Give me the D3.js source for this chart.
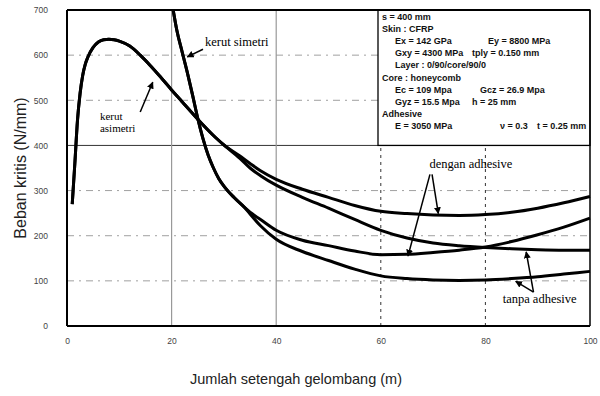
<!DOCTYPE html>
<html>
<head>
<meta charset="utf-8">
<script src="https://cdn.jsdelivr.net/npm/d3@7"></script>
<style>
  body { margin: 0; background: #fff; }
  svg { display: block; }
</style>
</head>
<body>
<div id="chart"></div>
<script>
// jumlah setengah gelombang (m) for each curve
const asymM = [1, 1.5, 2, 2.5, 3, 3.5, 4, 5, 6, 7, 8, 9, 10, 12, 14, 16, 18, 20, 22, 25, 28, 30, 33, 35, 37, 40, 45, 50, 55, 60, 65, 70, 75, 80, 85, 90, 95, 100];
const asymDengan = [270, 360, 455, 515, 555, 580, 596, 617, 629, 634, 635, 634, 631, 620, 600, 576, 550, 523, 497, 458, 422, 401, 377, 360, 344, 325, 303, 285, 267, 254, 249, 246, 245, 247, 252, 261, 273, 287];
const asymTanpa = [270, 360, 455, 515, 555, 580, 596, 617, 629, 634, 635, 634, 631, 620, 600, 576, 550, 523, 497, 458, 422, 401, 372, 350, 333, 312, 285, 261, 236, 212, 195, 184, 178, 174, 171, 169, 168, 168];

const symM = [20.3, 21, 22, 23, 24, 25, 26, 27, 28, 29, 30, 32, 34, 35, 37, 40, 45, 50, 55, 60, 65, 70, 75, 80, 85, 90, 95, 100];
const symDengan = [700, 655, 608, 562, 512, 460, 415, 378, 350, 327, 310, 284, 262, 252, 236, 212, 190, 178, 166, 158, 159, 163, 168, 175, 187, 202, 219, 239];
const symTanpa = [700, 655, 608, 562, 512, 460, 415, 378, 350, 327, 310, 284, 262, 248, 222, 192, 165, 145, 126, 111, 105, 102, 101, 102, 105, 109, 115, 121];

const xTicks = [0, 20, 40, 60, 80, 100];
const yTicks = [0, 100, 200, 300, 400, 500, 600, 700];

const infoLines = [
  [['s = 400 mm', 0]],
  [['Skin : CFRP', 0]],
  [['Ex = 142 GPa', 13], ['Ey = 8800 MPa', 106]],
  [['Gxy = 4300 MPa', 13], ['tply = 0.150 mm', 90]],
  [['Layer : 0/90/core/90/0', 13]],
  [['Core : honeycomb', 0]],
  [['Ec = 109 Mpa', 13], ['Gcz = 26.9 Mpa', 98]],
  [['Gyz = 15.5 Mpa', 13], ['h = 25 mm', 90]],
  [['Adhesive', 0]],
  [['E = 3050 MPa', 13], ['\u03bd = 0.3', 118], ['t = 0.25 mm', 155]]
];

const width = 600;
const height = 396;
const margin = { left: 67, right: 10, top: 10, bottom: 70 };

const x = d3.scaleLinear().domain([0, 100]).range([margin.left, width - margin.right]);
const y = d3.scaleLinear().domain([0, 700]).range([height - margin.bottom, margin.top]);

const svg = d3.select('#chart').append('svg').attr('width', width).attr('height', height);

svg.append('defs')
  .append('marker')
  .attr('id', 'head')
  .attr('viewBox', '0 0 10 10')
  .attr('refX', 9)
  .attr('refY', 5)
  .attr('markerWidth', 7)
  .attr('markerHeight', 7)
  .attr('markerUnits', 'userSpaceOnUse')
  .attr('orient', 'auto')
  .append('path')
  .attr('d', 'M0,0 L10,5 L0,10 z')
  .attr('fill', '#000');

// grid
svg.append('g')
  .selectAll('line')
  .data(yTicks.filter(d => d > 0 && d < 700))
  .enter()
  .append('line')
  .attr('x1', x(0))
  .attr('x2', x(100))
  .attr('y1', d => y(d))
  .attr('y2', d => y(d))
  .style('stroke', d => (d === 400 ? '#333' : '#888'))
  .style('stroke-width', d => (d === 400 ? 1 : 0.8))
  .style('stroke-dasharray', d => (d === 400 ? null : '7,5,2,5'));

svg.append('g')
  .selectAll('line')
  .data(xTicks.filter(d => d > 0 && d < 100))
  .enter()
  .append('line')
  .attr('x1', d => x(d))
  .attr('x2', d => x(d))
  .attr('y1', y(0))
  .attr('y2', y(700))
  .style('stroke', d => (d <= 40 ? '#999' : '#333'))
  .style('stroke-width', d => (d <= 40 ? 1.2 : 1))
  .style('stroke-dasharray', d => (d <= 40 ? null : '3,4'));

// axes
const xAxis = svg.append('g')
  .attr('transform', `translate(0,${y(0) + 9})`)
  .call(d3.axisBottom(x).tickValues(xTicks).tickSize(0).tickFormat(d3.format('d')));
const yAxis = svg.append('g')
  .attr('transform', `translate(${x(0) - 16},0)`)
  .call(d3.axisLeft(y).tickValues(yTicks).tickSize(0).tickFormat(d3.format('d')));
[xAxis, yAxis].forEach(a => {
  a.select('.domain').remove();
  a.selectAll('text')
    .style('font-family', 'Liberation Sans, Arial, sans-serif')
    .style('font-size', '8.5px')
    .style('fill', '#444');
});

// legend box with parameters
const boxX = 378;
svg.append('rect')
  .attr('x', boxX)
  .attr('y', y(700))
  .attr('width', x(100) - boxX)
  .attr('height', y(400) - y(700))
  .style('fill', '#fff')
  .style('stroke', '#000')
  .style('stroke-width', 1.3);

const info = svg.append('g')
  .style('font-family', 'Liberation Sans, Arial, sans-serif')
  .style('font-size', '9px')
  .style('font-weight', 'bold')
  .style('fill', '#111');
infoLines.forEach((parts, i) => {
  parts.forEach(([t, dx]) => {
    info.append('text')
      .attr('x', boxX + 4 + dx)
      .attr('y', 19.5 + i * 12.2)
      .text(t);
  });
});

// frame
const frame = svg.append('g').style('stroke', '#000').style('fill', 'none');
frame.append('line').attr('x1', x(0)).attr('x2', x(100)).attr('y1', y(700)).attr('y2', y(700)).style('stroke-width', 2);
frame.append('line').attr('x1', x(0)).attr('x2', x(100)).attr('y1', y(0)).attr('y2', y(0)).style('stroke-width', 2);
frame.append('line').attr('x1', x(0)).attr('x2', x(0)).attr('y1', y(0)).attr('y2', y(700)).style('stroke-width', 2);
frame.append('line').attr('x1', x(100)).attr('x2', x(100)).attr('y1', y(0)).attr('y2', y(700)).style('stroke-width', 1.5);

// curves
const line = d3.line()
  .x(d => x(d[0]))
  .y(d => y(d[1]))
  .curve(d3.curveMonotoneX);

const series = [
  d3.zip(asymM, asymDengan),
  d3.zip(asymM, asymTanpa),
  d3.zip(symM, symDengan),
  d3.zip(symM, symTanpa)
];

svg.append('g')
  .selectAll('path')
  .data(series)
  .enter()
  .append('path')
  .attr('d', line)
  .style('fill', 'none')
  .style('stroke', '#000')
  .style('stroke-width', 3)
  .style('stroke-linejoin', 'round');

// annotations (data coordinates)
const notes = [
  { lines: ['kerut simetri'], m: 26.4, v: 620, size: 12.5 },
  { lines: ['kerut', 'asimetri'], m: 6.3, v: 456, size: 11 },
  { lines: ['dengan adhesive'], m: 69.3, v: 349, size: 12.5 },
  { lines: ['tanpa adhesive'], m: 83.3, v: 51, size: 12.5 }
];
const arrows = [
  [26.0, 613, 23.0, 596],
  [14.0, 474, 16.4, 540],
  [69.4, 336, 65.2, 155],
  [69.8, 336, 71.0, 249],
  [89.2, 75, 87.8, 164],
  [89.2, 75, 85.8, 99]
];

const notesG = svg.append('g')
  .style('font-family', 'Liberation Serif, Times New Roman, serif')
  .style('fill', '#000');
notes.forEach(n => {
  n.lines.forEach((t, i) => {
    notesG.append('text')
      .attr('x', x(n.m))
      .attr('y', y(n.v) + i * (n.size + 1))
      .style('font-size', n.size + 'px')
      .text(t);
  });
});

svg.append('g')
  .selectAll('line')
  .data(arrows)
  .enter()
  .append('line')
  .attr('x1', d => x(d[0]))
  .attr('y1', d => y(d[1]))
  .attr('x2', d => x(d[2]))
  .attr('y2', d => y(d[3]))
  .style('stroke', '#000')
  .style('stroke-width', 1.5)
  .attr('marker-end', 'url(#head)');

// axis titles
svg.append('text')
  .attr('x', 296)
  .attr('y', 384)
  .attr('text-anchor', 'middle')
  .style('font-family', 'Liberation Sans, Arial, sans-serif')
  .style('font-size', '14.5px')
  .style('fill', '#222')
  .text('Jumlah setengah gelombang (m)');

svg.append('text')
  .attr('transform', `translate(26,${(y(0) + y(700)) / 2}) rotate(-90)`)
  .attr('text-anchor', 'middle')
  .style('font-family', 'Liberation Sans, Arial, sans-serif')
  .style('font-size', '16px')
  .style('fill', '#222')
  .text('Beban kritis (N/mm)');
</script>
</body>
</html>
